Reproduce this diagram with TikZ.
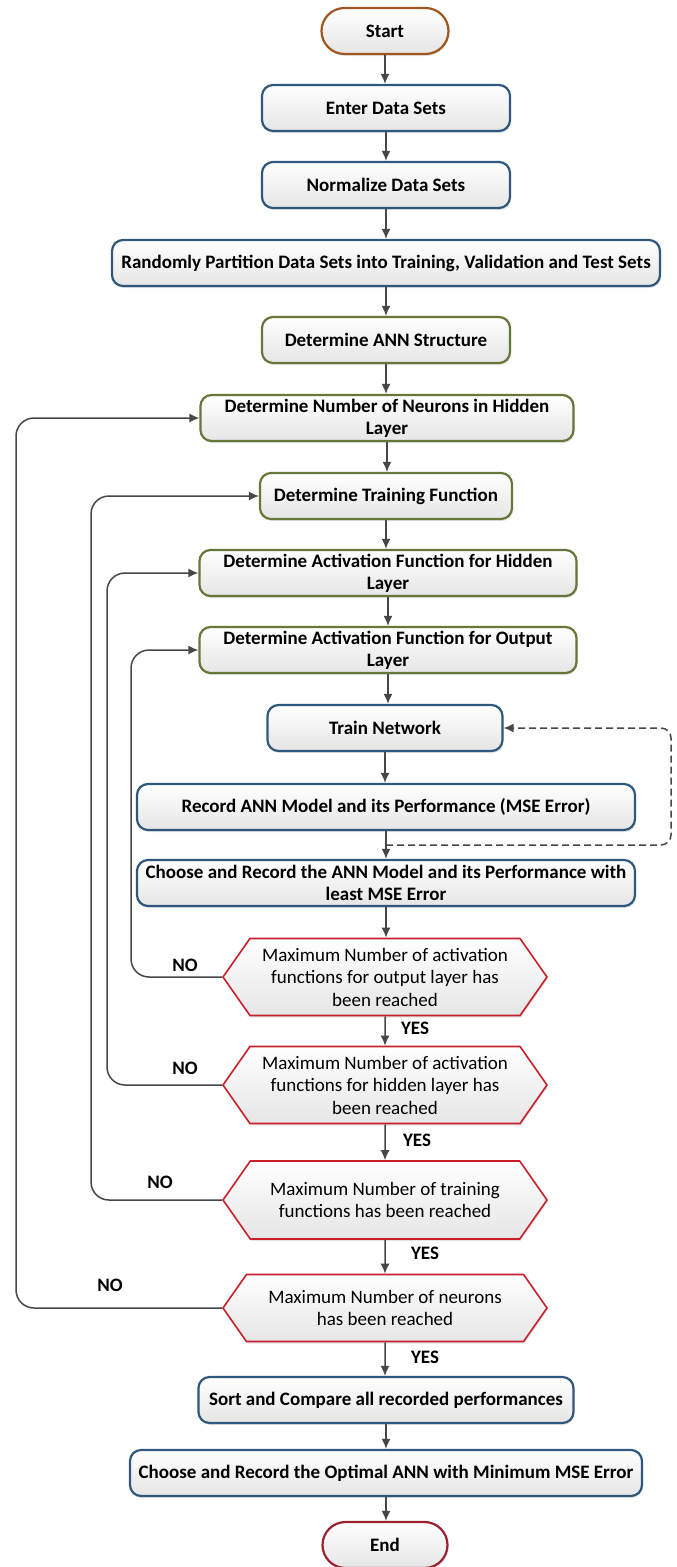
\documentclass[tikz,border=0pt]{standalone}
\usepackage{fontspec}
\setmainfont{Carlito}
\usepackage{tikz}
\usetikzlibrary{shadows}
\usetikzlibrary{positioning}
\usetikzlibrary{arrows.meta,shapes.symbols}
\usetikzlibrary{calc}
\definecolor{boxblue}{HTML}{30587C}
\definecolor{boxgreen}{HTML}{67773A}
\definecolor{startbrown}{HTML}{A2561F}
\definecolor{endred}{HTML}{9C2230}
\definecolor{decred}{HTML}{C8202A}
\definecolor{arrowgray}{HTML}{474747}
\tikzstyle{box}=[draw, rounded corners=11pt, line width=2.2pt, top color=white, bottom color=black!10, drop shadow={shadow xshift=1pt, shadow yshift=-2pt, opacity=0.2}, align=center, font=\fontsize{19}{22}\selectfont\bfseries, minimum height=46pt, inner sep=1pt]
\tikzstyle{bluebox}=[box, draw=boxblue]
\tikzstyle{greenbox}=[box, draw=boxgreen]
\tikzstyle{startbox}=[box, draw=startbrown, rounded corners=23pt]
\tikzstyle{endbox}=[box, draw=endred, rounded corners=23pt]
\tikzstyle{decision}=[signal, signal to=west and east, signal pointer angle=110, draw=decred, line width=1.6pt, top color=white, bottom color=black!10, drop shadow={shadow xshift=1pt, shadow yshift=-2pt, opacity=0.2}, align=center, font=\fontsize{19}{22.5}\selectfont, minimum width=324pt, inner sep=0pt]
\tikzstyle{flow}=[draw=arrowgray, line width=1.5pt, -{Latex[length=10pt,width=9pt]}]
\tikzstyle{backedge}=[flow, rounded corners=18pt]
\tikzstyle{dashedge}=[flow, dash pattern=on 7pt off 4pt, rounded corners=10pt]
\tikzstyle{answer}=[font=\fontsize{19}{22}\selectfont\bfseries]

\begin{document}
\begin{tikzpicture}[x=1pt, y=-1pt]
    \fill[white] (0,0) rectangle (677,1567);
    \useasboundingbox (0,0) rectangle (677,1567);
    % process boxes
    \foreach \pos/\name/\kind/\wid/\txt in {{(385,31)/start/startbox/127/Start},
        {(386,108)/enter/bluebox/248/Enter Data Sets},
        {(386,185)/norm/bluebox/248/Normalize Data Sets},
        {(386,263)/part/bluebox/548/{Randomly Partition Data Sets into Training, Validation and Test Sets}},
        {(386,340)/struct/greenbox/248/Determine ANN Structure},
        {(387,418)/neur/greenbox/373/{Determine Number of Neurons in Hidden\\Layer}},
        {(386,496)/trfun/greenbox/252/Determine Training Function},
        {(388,573)/acthid/greenbox/377/{Determine Activation Function for Hidden\\Layer}},
        {(388,650)/actout/greenbox/377/{Determine Activation Function for Output\\Layer}},
        {(385,728)/train/bluebox/235/Train Network},
        {(386,807)/rec/bluebox/498/{Record ANN Model and its Performance (MSE Error)}},
        {(386,883)/choose/bluebox/498/{Choose and Record the ANN Model and its Performance with\\least MSE Error}},
        {(386,1400)/sort/bluebox/375/Sort and Compare all recorded performances},
        {(386,1473)/optim/bluebox/512/Choose and Record the Optimal ANN with Minimum MSE Error},
        {(385,1545)/stop/endbox/125/End}}
        \node[\kind, minimum width=\wid pt] (\name) at \pos {\txt};

    % decisions
    \foreach \pos/\name/\hgt/\txt in {{(385,977)/dout/77/{Maximum Number of activation\\functions for output layer has\\been reached}},
        {(385,1085)/dhid/77/{Maximum Number of activation\\functions for hidden layer has\\been reached}},
        {(385,1200)/dtrn/78/{Maximum Number of training\\functions has been reached}},
        {(385,1308)/dneu/67/{Maximum Number of neurons\\has been reached}}}
        \node[decision, minimum height=\hgt pt] (\name) at \pos {\txt};

    % main flow
    \foreach \a/\b in {start/enter, enter/norm, norm/part, part/struct, struct/neur, neur/trfun, trfun/acthid, acthid/actout, actout/train, train/rec, rec/choose, choose/dout, dout/dhid, dhid/dtrn, dtrn/dneu, dneu/sort, sort/optim, optim/stop}
        \draw[flow] (\a) -- (\a |- \b.north);

    % NO loops
    \draw[backedge] (dout.west) -- ++(-91,0) |- (actout.west);
    \draw[backedge] (dhid.west) -- ++(-115,0) |- (acthid.west);
    \draw[backedge] (dtrn.west) -- ++(-131,0) |- (trfun.west);
    \draw[backedge] (dneu.west) -- ++(-206,0) |- (neur.west);

    % dashed loop back to training
    \coordinate (redo) at ($(rec.south)!0.5!(choose.north)$);
    \draw[dashedge] (redo) -- ++(285,0) |- (train.east);

    % answers
    \node[answer] (no1) at (185,965) {NO};
    \node[answer] (no2) at (185,1068) {NO};
    \node[answer] (no3) at (160,1182) {NO};
    \node[answer] (no4) at (110,1285) {NO};
    \node[answer] (yes1) at (415,1028) {YES};
    \node[answer] (yes2) at (417,1140) {YES};
    \node[answer] (yes3) at (425,1253) {YES};
    \node[answer] (yes4) at (425,1357) {YES};
\end{tikzpicture}
\end{document}
